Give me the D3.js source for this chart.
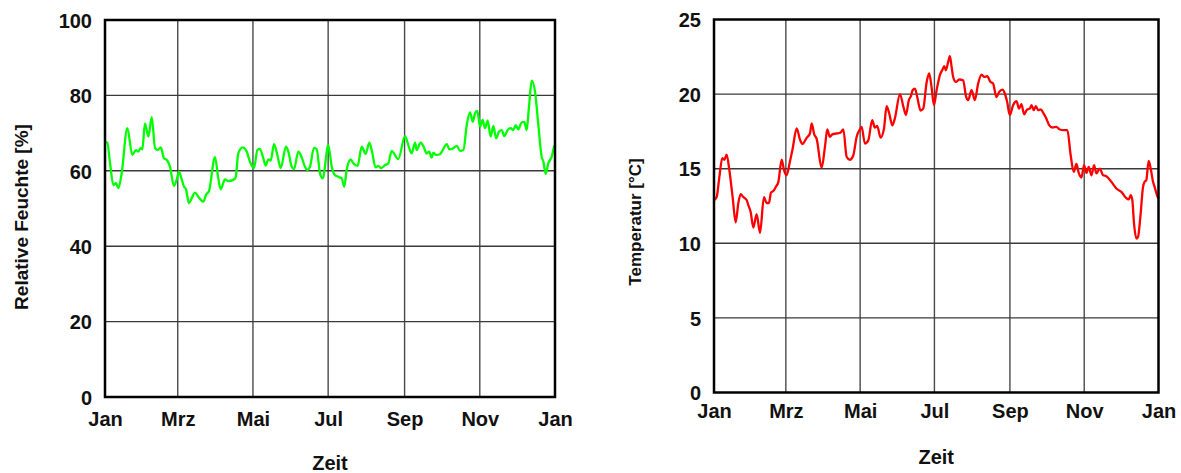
<!DOCTYPE html>
<html>
<head>
<meta charset="utf-8">
<script src="https://cdn.jsdelivr.net/npm/d3@7"></script>
<style>
  html, body { margin: 0; padding: 0; background: #fff; }
  svg { display: block; }
  text { font-family: "Liberation Sans", Arial, sans-serif; font-weight: bold; fill: #111; }
</style>
</head>
<body>
<svg id="chart" width="1181" height="473"></svg>
<script>
// Day of year (0 = 1 Jan) and daily relative humidity [%]
const humidityDays = [0,1.9,4.1,6.8,8.9,10.8,13.5,18.1,22.2,25.1,27.0,28.9,30.3,32.4,35.2,37.9,40.6,42.7,45.2,47.9,50.0,52.7,55.9,58.1,60.0,61.6,64.1,65.7,68.1,70.3,73.0,75.7,79.8,81.9,84.4,89.2,91.9,93.8,97.3,100.0,104.1,106.0,108.1,111.7,114.9,117.6,120.8,123.6,125.7,128.4,130.3,132.5,134.4,137.1,139.8,142.5,146.8,148.7,151.4,153.3,156.8,159.5,162.2,164.1,166.3,169.5,171.7,174.4,176.6,181.1,183.9,186.5,189.3,192.0,194.1,196.0,199.3,201.4,204.9,208.2,211.4,214.4,216.3,219.5,221.7,223.9,227.1,229.8,232.5,237.9,243.3,246.6,248.7,251.5,252.8,256.0,258.7,260.9,262.9,265.0,266.3,268.5,271.7,273.6,277.2,279.3,282.5,285.3,288.0,290.7,293.4,296.1,298.3,300.1,302.0,304.2,306.3,308.2,310.4,312.8,315.0,317.2,319.6,321.8,323.9,326.6,329.0,331.2,333.1,335.2,337.9,340.1,342.0,343.9,346.1,348.8,351.5,354.2,355.6,357.4,359.6,361.0,362.3,364.5,365];
const humidityValues = [67.7,67.4,62.0,56.2,56.7,55.4,59.3,71.3,64.2,65.5,65.1,66.0,65.7,72.6,69.1,74.2,66.0,65.5,66.2,63.3,62.9,61.1,56.0,57.6,59.8,58.4,55.8,55.1,51.4,52.7,54.2,53.1,51.8,53.6,54.7,63.6,58.0,55.1,57.7,57.3,57.6,58.3,64.6,66.2,65.1,62.4,60.7,65.5,65.8,63.3,61.4,63.0,62.7,67.1,64.2,60.7,66.4,65.1,61.1,60.4,65.1,63.6,61.1,60.2,61.1,66.1,65.7,59.3,58.0,66.8,61.1,58.9,58.4,58.0,55.8,60.2,63.0,62.0,61.3,66.4,64.5,67.5,65.5,60.9,61.3,60.7,61.5,62.0,65.3,63.1,69.2,66.2,64.6,67.5,65.5,67.5,66.2,64.6,65.1,63.5,64.8,64.2,64.4,65.3,67.1,65.7,66.0,66.6,65.3,65.5,72.1,75.5,73.0,75.2,75.9,71.7,73.5,71.3,73.3,69.1,71.9,68.6,70.4,70.8,69.2,70.8,71.3,70.8,72.1,71.0,72.8,73.0,70.8,77.0,83.9,81.0,72.1,63.7,62.4,59.2,62.0,62.9,63.7,66.6,66.8];

// Day of year and daily temperature [°C]
const temperatureDays = [0,2.2,4.4,6.8,8.5,10.4,12.6,15.3,17.8,20.0,21.9,24.1,26.8,28.2,30.1,32.3,35.0,37.8,41.0,43.2,45.1,46.8,48.7,50.9,52.8,55.6,57.5,59.6,62.4,64.5,67.9,70.6,72.5,76.1,78.8,80.2,82.3,84.3,88.4,91.1,93.0,95.2,97.1,100.7,104.0,106.2,108.9,111.6,114.4,117.1,119.8,121.2,123.9,126.7,129.9,132.1,134.0,136.8,139.6,141.7,143.9,146.4,148.6,152.7,155.4,157.6,160.0,161.7,163.1,165.0,166.9,169.6,171.8,174.6,176.7,178.6,180.6,182.8,185.5,187.7,189.1,190.4,192.3,193.7,195.1,196.4,198.6,201.4,204.6,206.9,208.7,211.5,214.2,216.9,219.7,221.9,224.3,227.0,229.2,231.9,234.2,236.9,238.8,240.7,242.9,245.6,248.4,250.5,252.4,254.7,257.1,259.4,260.7,262.6,264.3,266.2,268.4,270.3,272.5,275.2,277.9,281.2,283.9,287.2,290.2,292.7,295.4,297.6,299.5,301.7,303.9,305.8,307.7,309.9,312.1,314.0,316.7,319.5,322.2,326.3,330.4,334.5,338.1,340.5,342.2,343.5,344.9,346.8,348.2,350.1,352.3,353.6,355.0,356.9,358.6,360.5,361.8,364.0,365];
const temperatureValues = [12.9,13.1,14.45,15.7,15.6,15.95,14.9,13.1,11.4,12.7,13.3,13.1,12.9,12.55,12.1,11.06,11.95,10.7,13.1,12.7,12.7,13.4,13.5,13.8,14.1,15.6,14.9,14.56,15.5,16.3,17.7,16.95,16.65,17.07,17.36,18.03,17.3,17.0,15.05,16.46,17.63,17.13,17.3,17.36,17.43,17.63,15.8,15.6,15.9,17.13,17.63,17.8,16.69,16.9,18.25,17.76,17.87,17.09,17.7,19.19,18.7,17.9,18.4,20.0,19.19,18.6,19.6,19.86,20.26,20.37,19.8,18.9,19.03,20.8,21.38,20.5,19.26,20.26,21.27,21.65,21.87,21.6,22.16,22.54,21.83,21.15,20.82,20.98,20.93,19.86,19.6,20.26,19.6,20.7,21.3,21.15,21.2,20.82,20.7,19.8,20.15,20.3,20.04,19.48,18.59,19.26,19.52,19.03,19.32,18.65,18.97,19.03,19.26,18.92,19.19,18.92,18.97,18.74,18.43,17.92,17.76,17.8,17.63,17.58,17.58,16.02,14.79,15.32,14.72,14.41,15.24,14.72,15.12,14.56,15.24,14.68,15.01,14.56,14.5,14.12,13.67,13.45,13.07,12.94,13.22,12.89,11.33,10.32,10.43,11.77,13.78,14.12,14.23,15.52,15.01,14.12,13.78,13.16,13.0];

// Month ticks (first day of every second month) and their labels
const monthTickDays = [0, 59, 120, 181, 243, 304, 365];
const monthLabels = ["Jan", "Mrz", "Mai", "Jul", "Sep", "Nov", "Jan"];

const humidityTicks = [0, 20, 40, 60, 80, 100];
const temperatureTicks = [0, 5, 10, 15, 20, 25];

const svg = d3.select("#chart");

function drawPanel(p) {
  const g = svg.append("g");
  const x = d3.scaleLinear().domain([0, 365]).range([p.left, p.right]);
  const y = d3.scaleLinear().domain(p.yDomain).range([p.bottom, p.top]);

  // grid
  g.append("g").selectAll("line.v")
    .data(monthTickDays.slice(1, -1))
    .join("line")
    .attr("x1", d => x(d)).attr("x2", d => x(d))
    .attr("y1", p.top).attr("y2", p.bottom)
    .attr("stroke", "#4a4a4a").attr("stroke-width", 1.4);
  g.append("g").selectAll("line.h")
    .data(p.yTicks.slice(1, -1))
    .join("line")
    .attr("x1", p.left).attr("x2", p.right)
    .attr("y1", d => y(d)).attr("y2", d => y(d))
    .attr("stroke", "#3a3a3a").attr("stroke-width", 1.4);

  // data line
  const line = d3.line()
    .x((d, i) => x(p.days[i]))
    .y(d => y(d))
    .curve(d3.curveMonotoneX);
  g.append("path")
    .datum(p.values)
    .attr("fill", "none")
    .attr("stroke", p.color)
    .attr("stroke-width", 2.3)
    .attr("stroke-linejoin", "round")
    .attr("d", line);

  // frame
  g.append("rect")
    .attr("x", p.left).attr("y", p.top)
    .attr("width", p.right - p.left).attr("height", p.bottom - p.top)
    .attr("fill", "none").attr("stroke", "#000").attr("stroke-width", 2.5);

  // axes (labels only; the frame carries the axis lines)
  const xAxis = d3.axisBottom(x).tickValues(monthTickDays)
    .tickFormat((d, i) => monthLabels[i]).tickSize(0).tickPadding(0);
  const xa = g.append("g").attr("transform", `translate(0,${p.bottom})`).call(xAxis);
  xa.select(".domain").remove();
  xa.selectAll("text")
    .attr("y", p.xLabelOffset).attr("dy", null)
    .style("font-size", "20px").style("font-family", "Liberation Sans, Arial, sans-serif")
    .style("font-weight", "bold").attr("fill", "#111");

  const yAxis = d3.axisLeft(y).tickValues(p.yTicks).tickSize(0).tickPadding(13);
  const ya = g.append("g").attr("transform", `translate(${p.left},0)`).call(yAxis);
  ya.select(".domain").remove();
  ya.selectAll("text")
    .attr("dy", "0.36em")
    .style("font-size", "20px").style("font-family", "Liberation Sans, Arial, sans-serif")
    .style("font-weight", "bold").attr("fill", "#111");

  // axis titles
  g.append("text")
    .attr("x", (p.left + p.right) / 2)
    .attr("y", p.xTitleY)
    .attr("text-anchor", "middle")
    .style("font-size", "20px")
    .text("Zeit");
  g.append("text")
    .attr("transform", `translate(${p.yTitleX},${p.yTitleY}) rotate(-90)`)
    .attr("text-anchor", "middle")
    .style("font-size", p.yTitleSize)
    .text(p.yTitle);
}

drawPanel({
  left: 105, right: 555, top: 20, bottom: 397,
  yDomain: [0, 100], yTicks: humidityTicks,
  days: humidityDays, values: humidityValues, color: "#00ff00",
  xLabelOffset: 29, xTitleY: 470,
  yTitleX: 28, yTitleY: 217, yTitleSize: "19px", yTitle: "Relative Feuchte [%]"
});

drawPanel({
  left: 714, right: 1158.5, top: 19.5, bottom: 392.5,
  yDomain: [0, 25], yTicks: temperatureTicks,
  days: temperatureDays, values: temperatureValues, color: "#ff0000",
  xLabelOffset: 25, xTitleY: 464,
  yTitleX: 641, yTitleY: 222, yTitleSize: "17px", yTitle: "Temperatur [°C]"
});
</script>
</body>
</html>
